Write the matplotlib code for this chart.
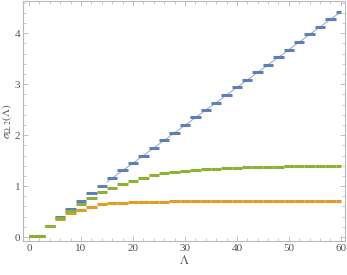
import matplotlib
matplotlib.use("Agg")
import matplotlib.pyplot as plt
from matplotlib.ticker import MultipleLocator

plt.rcParams["mathtext.fontset"] = "stix"

# step edges in Lambda: first plateau [0, 3], then every 2 units, last one cut at 60
edges = [0, 3, 5, 7, 9, 11, 13, 15, 17, 19, 21, 23, 25, 27, 29, 31, 33, 35,
         37, 39, 41, 43, 45, 47, 49, 51, 53, 55, 57, 59, 60]

blue = [0.02, 0.22, 0.39, 0.55, 0.71, 0.86, 1.01, 1.16, 1.31, 1.46, 1.60,
        1.75, 1.90, 2.05, 2.20, 2.35, 2.49, 2.64, 2.79, 2.94, 3.09, 3.24,
        3.38, 3.53, 3.68, 3.83, 3.98, 4.13, 4.27, 4.42]
orange = [0.02, 0.22, 0.35, 0.47, 0.54, 0.59, 0.64, 0.665, 0.675, 0.68,
          0.685, 0.69, 0.695, 0.70, 0.70, 0.702, 0.704, 0.706, 0.707, 0.708,
          0.709, 0.71, 0.71, 0.711, 0.712, 0.712, 0.713, 0.713, 0.714, 0.714]
green = [0.02, 0.22, 0.38, 0.52, 0.65, 0.77, 0.88, 0.96, 1.04, 1.10, 1.16,
         1.21, 1.25, 1.28, 1.30, 1.32, 1.33, 1.34, 1.35, 1.36, 1.365, 1.37,
         1.375, 1.38, 1.385, 1.39, 1.39, 1.395, 1.395, 1.40]

# thin guide line through the blue steps
trend_x = [15, 60]
trend_y = [1.08, 4.42]

BLUE, ORANGE, GREEN = "#5e81b5", "#e19c24", "#8fb032"
FRAME = "#b8b8b8"
TEXT = "#555555"


def draw_steps(ax, values, color):
    for i, v in enumerate(values):
        ax.plot([edges[i], edges[i + 1]], [v, v], color=color, lw=2.2,
                solid_capstyle="butt", zorder=3)


fig = plt.figure(figsize=(3.47, 2.75), dpi=100)
ax = fig.add_axes([0.0663, 0.1236, 0.928, 0.8724])

ax.plot(trend_x, trend_y, color=BLUE, lw=0.6, alpha=0.8, zorder=2)
draw_steps(ax, blue, BLUE)
draw_steps(ax, orange, ORANGE)
draw_steps(ax, green, GREEN)

ax.set_xlim(-1.15, 60.8)
ax.set_ylim(-0.078, 4.63)

ax.xaxis.set_major_locator(MultipleLocator(10))
ax.xaxis.set_minor_locator(MultipleLocator(2))
ax.yaxis.set_major_locator(MultipleLocator(1))
ax.yaxis.set_minor_locator(MultipleLocator(0.2))

for side in ax.spines.values():
    side.set_color(FRAME)
    side.set_linewidth(0.8)

serif = ["Liberation Serif", "DejaVu Serif"]
ax.tick_params(which="both", direction="in", top=True, right=True,
               color=FRAME, labelcolor=TEXT, labelsize=8, pad=2)
ax.tick_params(which="major", length=3.5, width=0.6)
ax.tick_params(which="minor", length=2, width=0.5)
for lab in ax.get_xticklabels() + ax.get_yticklabels():
    lab.set_family(serif)

ax.set_xlabel(r"$\Lambda$", color=TEXT, fontsize=9, labelpad=1)
ax.set_ylabel(r"$\sigma_{\Omega,2}(\Lambda)$", color=TEXT, fontsize=8)
ax.yaxis.set_label_coords(-0.025, 0.5)

fig.savefig("out.png", dpi=100)
